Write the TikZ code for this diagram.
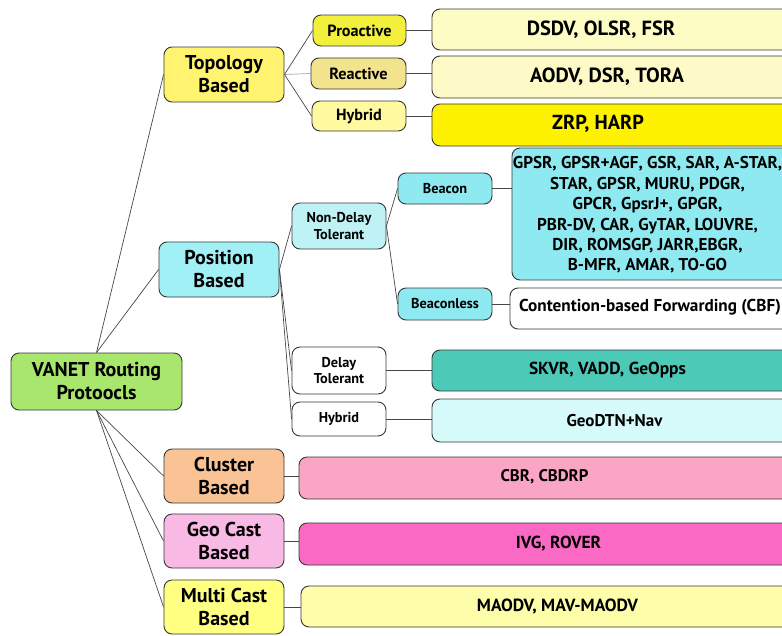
\documentclass[tikz,border=0pt]{standalone}
\usepackage{fontspec}
\setmainfont{PT Sans}
\definecolor{bd}{RGB}{55,55,55}
\definecolor{ln}{RGB}{70,70,70}
\definecolor{cRoot}{RGB}{168,230,110}
\definecolor{cTopo}{RGB}{255,243,112}
\definecolor{cPro}{RGB}{242,240,60}
\definecolor{cRea}{RGB}{242,228,140}
\definecolor{cHyb}{RGB}{255,249,160}
\definecolor{cDsdv}{RGB}{252,252,196}
\definecolor{cAodv}{RGB}{253,250,200}
\definecolor{cZrp}{RGB}{255,242,0}
\definecolor{cPos}{RGB}{160,240,245}
\definecolor{cNdt}{RGB}{190,242,245}
\definecolor{cBea}{RGB}{142,234,240}
\definecolor{cSkvr}{RGB}{77,201,184}
\definecolor{cGeoD}{RGB}{215,250,250}
\definecolor{cClus}{RGB}{250,195,150}
\definecolor{cCbr}{RGB}{250,165,195}
\definecolor{cGeo}{RGB}{248,185,228}
\definecolor{cIvg}{RGB}{250,105,195}
\definecolor{cMul}{RGB}{255,255,130}
\definecolor{cMao}{RGB}{253,253,170}
\newcommand\myfsL{\fontsize{20}{23}\selectfont}
\newcommand\myfsM{\fontsize{16.2}{18}\selectfont}
\newcommand\myfsS{\fontsize{14.3}{16.5}\selectfont}
\begin{document}
\begin{tikzpicture}[x=1pt,y=-1pt,
  box/.style={draw=bd, line width=0.9pt, rounded corners=8pt, inner sep=0pt, align=center, font=\bfseries},
  txt/.style={inner sep=0pt, align=center, font=\bfseries},
  conn/.style={draw=ln, line width=0.7pt}]
\useasboundingbox (0,0) rectangle (782,635);
\clip (0,0) rectangle (782,635);
% level 0
\node[box, fill=cRoot, minimum width=171pt, minimum height=57pt, font=\bfseries\myfsL] (root) at (96.5,381.5) {VANET Routing\\Protoocls};
% level 1
\node[box, fill=cTopo, minimum width=120pt, minimum height=55pt, font=\bfseries\myfsL] (topo) at (224,74.5) {Topology\\Based};
\node[box, fill=cPos, minimum width=120pt, minimum height=55pt, font=\bfseries\myfsL] (pos) at (219,269.5) {Position\\Based};
\node[box, fill=cClus, minimum width=120pt, minimum height=54pt, font=\bfseries\myfsL] (clus) at (224,476) {Cluster\\Based};
\node[box, fill=cGeo, minimum width=120pt, minimum height=54pt, font=\bfseries\myfsL] (geo) at (224,541) {Geo Cast\\Based};
\node[box, fill=cMul, minimum width=120pt, minimum height=54pt, font=\bfseries\myfsL] (multi) at (224,607) {Multi Cast\\Based};
% topology children
\node[box, fill=cPro, minimum width=93pt, minimum height=31pt, font=\bfseries\myfsM] (pro) at (359.5,30.5) {Proactive};
\node[box, fill=cRea, minimum width=95pt, minimum height=31pt, font=\bfseries\myfsM] (rea) at (358.5,73.5) {Reactive};
\node[box, fill=cHyb, minimum width=94pt, minimum height=30pt, font=\bfseries\myfsM] (hyb) at (359,116) {Hybrid};
% position children
\node[box, fill=cNdt, minimum width=94pt, minimum height=46pt, font=\bfseries\myfsS] (ndt) at (339,226) {Non-Delay\\Tolerant};
\node[box, fill=white, minimum width=94pt, minimum height=47pt, font=\bfseries\myfsS] (dt) at (339,370.5) {Delay\\Tolerant};
\node[box, fill=white, minimum width=94pt, minimum height=34pt, font=\bfseries\myfsS] (phyb) at (339,419) {Hybrid};
\node[box, fill=cBea, minimum width=94pt, minimum height=31pt, font=\bfseries\myfsS] (bea) at (445,188.5) {Beacon};
\node[box, fill=cBea, minimum width=94pt, minimum height=32pt, font=\bfseries\myfsS] (bless) at (445,304) {Beaconless};
% right boxes (extend beyond the page edge)
\node[box, fill=cDsdv, minimum width=358pt, minimum height=41pt] (dsdv) at (611,29.5) {};
\node[box, fill=cAodv, minimum width=358pt, minimum height=42pt] (aodv) at (611,77) {};
\node[box, fill=cZrp, minimum width=358pt, minimum height=42pt] (zrp) at (611,125) {};
\node[box, fill=cBea, minimum width=278pt, minimum height=132pt] (big) at (651,214) {};
\node[box, fill=white, minimum width=280pt, minimum height=41pt] (cbf) at (650,308.5) {};
\node[box, fill=cSkvr, minimum width=358pt, minimum height=41pt] (skvr) at (611,370.5) {};
\node[box, fill=cGeoD, minimum width=358pt, minimum height=43pt] (geod) at (611,420.5) {};
\node[box, fill=cCbr, minimum width=491pt, minimum height=42pt] (cbr) at (544.5,478) {};
\node[box, fill=cIvg, minimum width=491pt, minimum height=42pt] (ivg) at (544.5,544) {};
\node[box, fill=cMao, minimum width=489pt, minimum height=41pt] (mao) at (545.5,606.5) {};
% texts of right boxes
\node[txt, font=\bfseries\fontsize{20.5}{22}\selectfont] (dsdvt) at (601,30) {DSDV, OLSR, FSR};
\node[txt, font=\bfseries\fontsize{20.5}{22}\selectfont] (aodvt) at (607,76.5) {AODV, DSR, TORA};
\node[txt, font=\bfseries\fontsize{20.3}{22}\selectfont] (zrpt) at (598,123.5) {ZRP, HARP};
\node[txt, font=\bfseries\fontsize{17.1}{20.4}\selectfont] (bigt) at (647.5,215) {GPSR, GPSR+AGF, GSR, SAR, A-STAR,\\STAR, GPSR, MURU, PDGR,\\GPCR, GpsrJ+, GPGR,\\PBR-DV, CAR, GyTAR, LOUVRE,\\DIR, ROMSGP, JARR,EBGR,\\B-MFR, AMAR, TO-GO};
\node[txt, font=\bfseries\fontsize{17.2}{20}\selectfont] (cbft) at (650,307.5) {Contention-based Forwarding (CBF)};
\node[txt, font=\bfseries\fontsize{17.4}{20}\selectfont] (skvrt) at (607.5,370) {SKVR, VADD, GeOpps};
\node[txt, font=\bfseries\fontsize{17}{20}\selectfont] (geodt) at (614.5,421) {GeoDTN+Nav};
\node[txt, font=\bfseries\fontsize{16.8}{20}\selectfont] (cbrt) at (544.5,477) {CBR, CBDRP};
\node[txt, font=\bfseries\fontsize{17.4}{20}\selectfont] (ivgt) at (558.5,543.5) {IVG, ROVER};
\node[txt, font=\bfseries\fontsize{17.6}{20}\selectfont] (maot) at (557.5,606.5) {MAODV, MAV-MAODV};
% connectors
\draw[conn] (root.north) -- (topo.west);
\draw[conn] (root.north) -- (pos.west);
\draw[conn] (root.south) -- (clus.west);
\draw[conn] (root.south) -- (geo.west);
\draw[conn] (root.south) -- (multi.west);
\draw[conn] (topo.east) -- (pro.west);
\draw[conn, draw=gray!70] (topo.east) -- (rea.west);
\draw[conn] (topo.east) -- (hyb.west);
\draw[conn] (pro.east) -- (pro.east -| dsdv.west);
\draw[conn] (rea.east) -- (rea.east -| aodv.west);
\draw[conn] (hyb.east) -- (hyb.east -| zrp.west);
\draw[conn] (pos.east) -- (ndt.west);
\draw[conn] (pos.east) -- (dt.west);
\draw[conn] (pos.east) -- (phyb.west);
\draw[conn] (ndt.east) -- (bea.west);
\draw[conn] (ndt.east) -- (bless.west);
\draw[conn] (bea.east) -- (bea.east -| big.west);
\draw[conn] (bless.east) -- (bless.east -| cbf.west);
\draw[conn] (dt.east) -- (dt.east -| skvr.west);
\draw[conn] (phyb.east) -- (phyb.east -| geod.west);
\draw[conn] (clus.east) -- (clus.east -| cbr.west);
\draw[conn] (geo.east) -- (geo.east -| ivg.west);
\draw[conn] (multi.east) -- (multi.east -| mao.west);
\end{tikzpicture}
\end{document}
